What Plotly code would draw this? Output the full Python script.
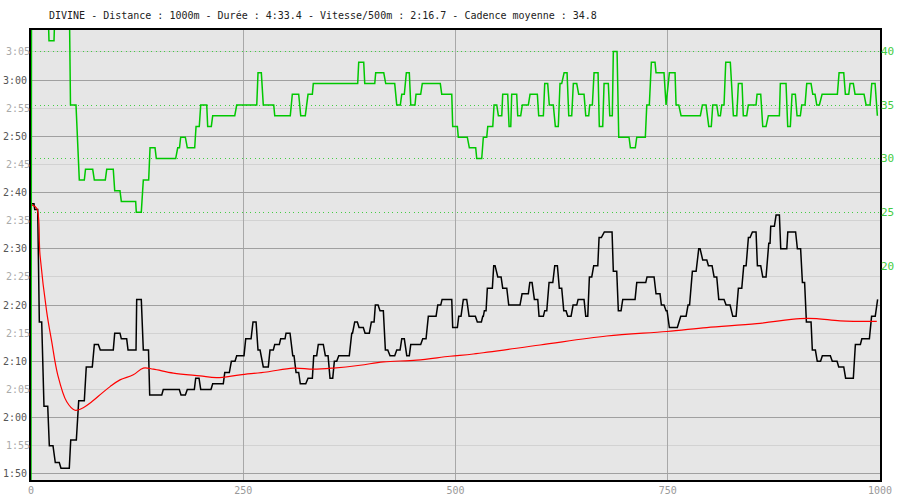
import plotly.graph_objects as go

title_text = "DIVINE - Distance : 1000m - Durée : 4:33.4 - Vitesse/500m : 2:16.7 - Cadence moyenne : 34.8"

# ---------- pace (seconds per 500 m), runs: start distance, end distance, value ----------
pace_start = [0, 4.4, 9.8, 15.3, 21.6, 28.6, 35.3, 46.8, 56.2, 65.1, 74.6, 81.6, 98.6, 106.4, 114.3, 124.5, 132.3, 139.8,
              155.8, 176.7, 184.1, 194.0, 199.9, 214.0, 228.2, 236.0, 242.3, 252.9, 261.5, 267.4, 273.6, 281.5, 287.1,
              294.1, 300.4, 308.3, 312.2, 317.2, 326.3, 333.0, 338.4, 346.7, 352.2, 357.3, 362.5, 377.8, 381.3, 386.4,
              393.5, 400.9, 405.6, 411.1, 417.4, 422.9, 430.8, 436.7, 442.6, 447.3, 461.4, 468.0, 479.1, 484.2, 496.7,
              503.8, 509.2, 516.0, 525.7, 532.1, 534.0, 537.5, 545.0, 549.8, 555.6, 562.7, 578.4, 587.5, 592.9, 598.4,
              605.1, 610.2, 616.9, 622.3, 627.5, 632.2, 638.5, 644.4, 653.4, 657.7, 662.8, 669.1, 675.3, 685.9, 691.8,
              697.0, 713.5, 725.6, 736.2, 742.5, 748.0, 751.9, 765.3, 773.9, 779.0, 786.5, 791.2, 797.9, 804.6, 810.1,
              818.7, 826.6, 833.2, 839.5, 845.0, 849.7, 855.6, 861.9, 869.0, 871.3, 877.6, 883.1, 891.4, 902.7, 908.6,
              913.3, 920.3, 926.1, 932.1, 943.8, 951.4, 959.5, 971.0, 978.6, 990.1, 997.2]
pace_end = [3.5, 7.9, 12.6, 19.7, 25.9, 33.3, 45.1, 53.4, 62.8, 72.2, 79.3, 96.9, 104.8, 112.7, 123.7, 129.9, 138.4, 154.0,
            174.7, 181.8, 192.4, 197.9, 212.0, 226.5, 233.6, 240.3, 250.9, 259.2, 265.1, 269.8, 279.5, 285.4, 292.5,
            299.2, 305.1, 309.8, 315.3, 323.6, 331.4, 336.5, 344.3, 349.9, 355.4, 360.1, 374.9, 378.7, 384.4, 391.4,
            398.5, 404.1, 408.8, 415.0, 420.2, 428.4, 434.7, 439.7, 445.6, 459.0, 465.3, 477.1, 482.6, 495.6, 502.2,
            506.5, 513.2, 523.4, 530.5, 532.8, 536.0, 543.4, 546.6, 553.7, 560.4, 576.0, 585.8, 590.2, 596.9, 603.5,
            607.5, 614.6, 620.0, 625.1, 630.2, 636.1, 642.8, 651.4, 655.8, 660.5, 667.6, 671.8, 684.4, 689.9, 695.0,
            711.5, 724.1, 733.9, 740.9, 745.6, 749.2, 761.3, 771.6, 775.7, 783.4, 788.1, 796.0, 802.2, 807.7, 816.3,
            823.4, 830.5, 837.2, 842.3, 847.0, 854.0, 859.5, 865.8, 870.5, 875.6, 881.5, 890.2, 900.6, 906.5, 911.2,
            918.8, 923.9, 930.0, 941.5, 949.4, 957.3, 968.6, 976.9, 987.5, 994.4, 997.2]
pace_sec = [158, 157, 137, 122, 115, 112, 111, 116, 123, 129, 133, 132, 135, 134, 132, 141, 132, 124,
            125, 124, 125, 127, 125, 126, 128, 130, 131, 134, 137, 132, 129, 132, 133,
            134, 135, 131, 128, 126, 127, 131, 133, 131, 127, 130, 131, 135, 137, 136,
            135, 137, 140, 139, 132, 131, 132, 134, 131, 133, 134, 138, 140, 141, 136,
            138, 141, 138, 137, 138, 139, 143, 147, 145, 143, 140, 142, 144, 141, 138,
            139, 144, 147, 143, 139, 138, 140, 141, 138, 145, 147, 152, 153, 146, 139,
            141, 144, 145, 142, 140, 139, 136, 138, 140, 146, 150, 148, 147, 145, 141,
            140, 138, 143, 147, 152, 153, 147, 145, 151, 154, 156, 150, 153, 150, 144,
            137, 132, 130, 131, 130, 129, 127, 133, 134, 138, 141]

# ---------- running average pace (seconds per 500 m) ----------
avg_dist = [0.8, 6.7, 10.6, 18.5, 24.4, 31.5, 42.1, 51.8, 59.7, 71.5, 83.3, 93.1, 104.8, 120.5, 132.3, 144.1, 167.6,
            199.1, 218.7, 246.2, 277.6, 309.0, 332.5, 356.1, 387.5, 415.0, 454.3, 493.5, 521.0, 599.6, 678.2, 748.8,
            796.0, 854.8, 905.8, 925.5, 953.0, 996.2]
avg_sec = [157.8, 157.2, 148.9, 138.8, 133.5, 127.6, 122.8, 121.3, 121.6, 122.8, 124.3, 125.5, 126.7, 127.6, 128.8,
           128.6, 127.9, 127.4, 127.1, 127.6, 128.1, 128.8, 128.6, 128.8, 129.3, 129.9, 130.2, 130.9, 131.3, 132.9,
           134.5, 135.3, 136.0, 136.7, 137.6, 137.6, 137.2, 137.1]

# ---------- cadence (strokes per minute), runs ----------
cad_start = [0, 0.6, 21.2, 28.6, 46.5, 56.9, 64.2, 74.6, 89.2, 98.6, 106.4, 124.0, 132.3, 140.2, 147.6, 172.8, 176.3,
             184.1, 194.4, 199.9, 208.1, 214.0, 242.3, 267.4, 273.6, 287.1, 307.8, 317.7, 326.3, 332.5, 386.0, 393.1,
             406.0, 417.8, 430.8, 436.7, 442.1, 447.3, 453.5, 460.9, 483.8, 496.7, 503.3, 516.3, 525.0, 532.8, 538.0,
             545.4, 550.5, 555.6, 563.1, 566.2, 573.3, 578.7, 587.8, 598.0, 605.1, 610.5, 617.6, 623.1, 627.9, 633.4,
             638.8, 645.1, 653.4, 658.1, 663.2, 669.4, 675.0, 681.7, 685.9, 692.3, 706.0, 713.5, 725.3, 730.7, 736.2,
             748.0, 751.9, 759.8, 765.7, 790.8, 798.3, 803.0, 809.6, 813.6, 818.3, 827.3, 833.2, 839.0, 844.9, 855.2,
             861.9, 868.5, 882.6, 891.3, 896.4, 902.3, 907.8, 913.7, 920.8, 925.5, 931.8, 951.8, 959.2, 964.7, 970.6,
             983.6, 990.3, 996.9]
cad_end = [0, 19.7, 27.1, 45.1, 53.0, 62.8, 72.7, 87.5, 96.9, 104.8, 123.3, 129.9, 138.6, 146.1, 170.4, 174.9, 181.8,
           192.8, 198.2, 207.0, 212.4, 240.0, 265.9, 271.3, 285.9, 305.4, 315.3, 323.1, 331.4, 384.8, 391.9, 404.9,
           415.5, 428.4, 435.0, 439.7, 445.6, 452.3, 459.0, 482.1, 495.6, 502.2, 513.9, 523.8, 530.9, 536.8, 543.9,
           548.6, 554.5, 561.5, 565.1, 572.1, 576.8, 585.8, 596.4, 603.5, 608.6, 615.2, 621.1, 625.1, 631.4, 636.9,
           642.8, 651.4, 656.9, 661.2, 667.9, 673.4, 680.0, 684.7, 690.3, 704.4, 711.8, 723.6, 728.3, 735.0, 745.6,
           748.0, 758.6, 763.0, 788.4, 795.1, 801.3, 807.7, 812.0, 816.3, 823.7, 831.3, 837.5, 843.0, 854.0, 859.5,
           865.8, 881.5, 889.3, 894.4, 900.3, 906.2, 911.7, 918.8, 923.5, 928.6, 949.8, 957.3, 963.2, 968.6, 981.2,
           988.3, 994.2, 996.9]
cad_spm = [0, 45, 41, 45, 35, 28, 29, 28, 29, 27, 26, 25, 28, 31, 30, 31, 32,
           31, 33, 35, 33, 34, 35, 38, 35, 34, 36, 34, 36, 37, 39, 37,
           38, 37, 35, 36, 38, 35, 36, 37, 36, 33, 32, 31, 30, 32, 33,
           35, 34, 36, 33, 36, 34, 35, 36, 34, 37, 35, 33, 37, 38, 34,
           37, 36, 34, 35, 38, 33, 37, 34, 40, 32, 31, 32, 35, 39, 38,
           35, 38, 35, 34, 35, 33, 35, 34, 35, 39, 34, 37, 34, 35, 36,
           33, 34, 37, 33, 36, 34, 35, 37, 36, 35, 36, 38, 36, 37, 36,
           35, 37, 34]

# ---------- axes ----------
x_ticks = [0, 250, 500, 750, 1000]
pace_major = [110, 120, 130, 140, 150, 160, 170, 180]
pace_minor = [115, 125, 135, 145, 155, 165, 175, 185]
cad_ticks = [20, 25, 30, 35, 40]
cad_dotted = [25, 30, 35, 40]
pace_range = [108.9, 188.9]
cad_range = [0, 42]


def mmss(s):
    return f"{s // 60}:{s % 60:02d}"


def runs_to_line(starts, ends, vals):
    xs, ys = [], []
    for s, e, v in zip(starts, ends, vals):
        xs.append(s)
        ys.append(v)
        if e != s:
            xs.append(e)
            ys.append(v)
    return xs, ys


MONO = "DejaVu Sans Mono"

fig = go.Figure()
# empty helper traces so the overlay axes (labels / dotted grid) are drawn
fig.add_trace(go.Scatter(x=[None], y=[None], yaxis="y3", mode="lines", hoverinfo="skip"))
fig.add_trace(go.Scatter(x=[None], y=[None], yaxis="y4", mode="lines", hoverinfo="skip"))

cx, cy = runs_to_line(cad_start, cad_end, cad_spm)
fig.add_trace(go.Scatter(x=cx, y=cy, mode="lines", yaxis="y2",
                         line=dict(color="#00c800", width=1.5), hoverinfo="skip"))
px_, py_ = runs_to_line(pace_start, pace_end, pace_sec)
fig.add_trace(go.Scatter(x=px_, y=py_, mode="lines", yaxis="y",
                         line=dict(color="#000000", width=1.5), hoverinfo="skip"))
fig.add_trace(go.Scatter(x=avg_dist, y=avg_sec, mode="lines", yaxis="y",
                         line=dict(color="#ff0000", width=1.2, shape="spline"), hoverinfo="skip"))

fig.update_layout(
    width=900, height=500,
    template="none",
    showlegend=False,
    paper_bgcolor="#ffffff",
    plot_bgcolor="#e6e6e6",
    margin=dict(l=31, r=20, t=30, b=20, pad=0),
    title=dict(text=title_text, x=49 / 900, xanchor="left", y=1 - 15 / 500, yanchor="middle",
               font=dict(family=MONO, size=10, color="#222222")),
    xaxis=dict(range=[0, 1000], tickvals=x_ticks, ticktext=[str(v) for v in x_ticks],
               showgrid=True, gridcolor="#a8a8a8", gridwidth=1, zeroline=False,
               showline=True, linecolor="#000000", linewidth=2, mirror=True, ticks="",
               tickfont=dict(family=MONO, size=10, color="#999999")),
    yaxis=dict(range=pace_range, tickvals=pace_major, ticktext=[mmss(v) for v in pace_major],
               showgrid=True, gridcolor="#a0a0a0", gridwidth=1, zeroline=False,
               showline=True, linecolor="#000000", linewidth=2, mirror=True, ticks="",
               tickfont=dict(family=MONO, size=10, color="#555555"),
               minor=dict(tickvals=pace_minor, showgrid=True, gridcolor="#d2d2d2", gridwidth=1, ticks="")),
    yaxis3=dict(range=pace_range, overlaying="y", anchor="x", side="left",
                tickvals=pace_minor, ticktext=[mmss(v) for v in pace_minor],
                showgrid=False, zeroline=False, showline=False, ticks="",
                tickfont=dict(family=MONO, size=10, color="#aaaaaa")),
    yaxis2=dict(range=cad_range, overlaying="y", anchor="x", side="right",
                tickvals=cad_ticks, ticktext=[str(v) for v in cad_ticks],
                showgrid=False, zeroline=False, showline=False, ticks="",
                tickfont=dict(family=MONO, size=11, color="#44cc44")),
    yaxis4=dict(range=cad_range, overlaying="y", anchor="x", side="right",
                tickvals=cad_dotted, showticklabels=False,
                showgrid=True, gridcolor="#44cc44", gridwidth=1, griddash="1px,3.3px",
                zeroline=False, showline=False, ticks=""),
)

fig.write_html("out.html", config={"displayModeBar": False},
               post_script="document.body.style.margin='0';document.body.style.padding='0';")
